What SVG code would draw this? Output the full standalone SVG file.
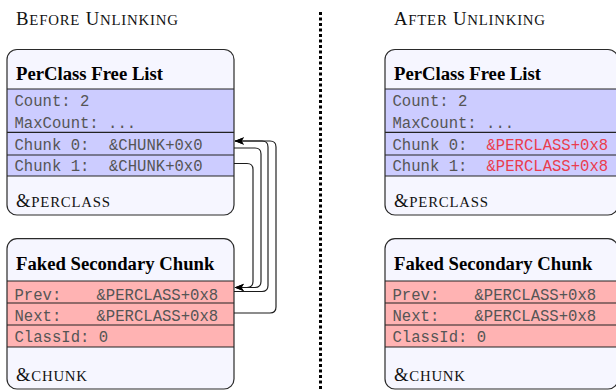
<svg xmlns="http://www.w3.org/2000/svg" width="616" height="391" viewBox="0 0 616 391">
<defs>
<style>
.box{fill:#f6f6ff;stroke:none}
.outline{fill:none;stroke:#2a2a2a;stroke-width:1.2}
.blue{fill:#ccccff}
.red{fill:#ffb3b3}
.sep{stroke:#222;stroke-width:1.2}
.title{font-family:"Liberation Serif","Times New Roman",serif;font-weight:bold;font-size:18.7px;fill:#000}
.sc{font-family:"Liberation Serif","Times New Roman",serif;font-size:18.7px;fill:#111}
.sc .s{font-size:14.8px}
.mono{font-family:"Liberation Mono","Courier New",monospace;font-size:15.6px;fill:#555}
.mono.hl{fill:#ea3c4e}
.conn{fill:none;stroke:#1a1a1a;stroke-width:1.15}
.divider{stroke:#000;stroke-width:3;stroke-dasharray:3 2.5}
</style>
<marker id="arr" viewBox="-10 -5 11 10" refX="0" refY="0" markerWidth="11" markerHeight="10" markerUnits="userSpaceOnUse" orient="auto">
<path d="M0.5,0 L-9,-3.8 L-6.5,0 L-9,3.8 Z" fill="#000"/>
</marker>
</defs>
<rect width="616" height="391" fill="#fff"/>

<text class="sc" x="16" y="25" textLength="162">B<tspan class="s">EFORE</tspan> U<tspan class="s">NLINKING</tspan></text>
<text class="sc" x="394" y="25" textLength="151">A<tspan class="s">FTER</tspan> U<tspan class="s">NLINKING</tspan></text>

<line class="divider" x1="320.5" y1="12" x2="320.5" y2="390"/>

<g id="perclass-before">
<rect class="box" x="7" y="49.5" width="227" height="165.5" rx="10"/>
<rect class="blue" x="7" y="89" width="227" height="87"/>
<line class="sep" x1="7" y1="89" x2="234" y2="89"/>
<line class="sep" x1="7" y1="132.3" x2="234" y2="132.3"/>
<line class="sep" x1="7" y1="155" x2="234" y2="155"/>
<line class="sep" x1="7" y1="176" x2="234" y2="176"/>
<rect class="outline" x="7" y="49.5" width="227" height="165.5" rx="10"/>
<text class="title" x="16" y="80">PerClass Free List</text>
<text class="mono" x="14.5" y="106">Count: 2</text>
<text class="mono" x="14.5" y="128.3">MaxCount: ...</text>
<text class="mono" x="14.5" y="149.5">Chunk 0:</text>
<text class="mono" x="109" y="149.5">&amp;CHUNK+0x0</text>
<text class="mono" x="14.5" y="170.5">Chunk 1:</text>
<text class="mono" x="109" y="170.5">&amp;CHUNK+0x0</text>
<text class="sc" x="16" y="207" textLength="94">&amp;<tspan class="s">PERCLASS</tspan></text>
</g>

<g id="chunk-before">
<rect class="box" x="7" y="238.7" width="227" height="150.3" rx="10"/>
<rect class="red" x="7" y="281" width="227" height="66"/>
<line class="sep" x1="7" y1="281" x2="234" y2="281"/>
<line class="sep" x1="7" y1="303" x2="234" y2="303"/>
<line class="sep" x1="7" y1="325" x2="234" y2="325"/>
<line class="sep" x1="7" y1="347" x2="234" y2="347"/>
<rect class="outline" x="7" y="238.7" width="227" height="150.3" rx="10"/>
<text class="title" x="16" y="269.5">Faked Secondary Chunk</text>
<text class="mono" x="14.5" y="299.5">Prev:</text>
<text class="mono" x="96.5" y="299.5">&amp;PERCLASS+0x8</text>
<text class="mono" x="14.5" y="320.5">Next:</text>
<text class="mono" x="96.5" y="320.5">&amp;PERCLASS+0x8</text>
<text class="mono" x="14.5" y="341.7">ClassId: 0</text>
<text class="sc" x="16" y="381" textLength="71">&amp;<tspan class="s">CHUNK</tspan></text>
</g>

<g id="perclass-after">
<rect class="box" x="385" y="49.5" width="233" height="165.5" rx="10"/>
<rect class="blue" x="385" y="89" width="233" height="87"/>
<line class="sep" x1="385" y1="89" x2="618" y2="89"/>
<line class="sep" x1="385" y1="132.3" x2="618" y2="132.3"/>
<line class="sep" x1="385" y1="155" x2="618" y2="155"/>
<line class="sep" x1="385" y1="176" x2="618" y2="176"/>
<rect class="outline" x="385" y="49.5" width="233" height="165.5" rx="10"/>
<text class="title" x="394" y="80">PerClass Free List</text>
<text class="mono" x="392.5" y="106">Count: 2</text>
<text class="mono" x="392.5" y="128.3">MaxCount: ...</text>
<text class="mono" x="392.5" y="149.5">Chunk 0:</text>
<text class="mono hl" x="486.5" y="149.5">&amp;PERCLASS+0x8</text>
<text class="mono" x="392.5" y="170.5">Chunk 1:</text>
<text class="mono hl" x="486.5" y="170.5">&amp;PERCLASS+0x8</text>
<text class="sc" x="394" y="207" textLength="94">&amp;<tspan class="s">PERCLASS</tspan></text>
</g>

<g id="chunk-after">
<rect class="box" x="385" y="238.7" width="233" height="150.3" rx="10"/>
<rect class="red" x="385" y="281" width="233" height="66"/>
<line class="sep" x1="385" y1="281" x2="618" y2="281"/>
<line class="sep" x1="385" y1="303" x2="618" y2="303"/>
<line class="sep" x1="385" y1="325" x2="618" y2="325"/>
<line class="sep" x1="385" y1="347" x2="618" y2="347"/>
<rect class="outline" x="385" y="238.7" width="233" height="150.3" rx="10"/>
<text class="title" x="394" y="269.5">Faked Secondary Chunk</text>
<text class="mono" x="392.5" y="299.5">Prev:</text>
<text class="mono" x="474.5" y="299.5">&amp;PERCLASS+0x8</text>
<text class="mono" x="392.5" y="320.5">Next:</text>
<text class="mono" x="474.5" y="320.5">&amp;PERCLASS+0x8</text>
<text class="mono" x="392.5" y="341.7">ClassId: 0</text>
<text class="sc" x="394" y="381" textLength="71">&amp;<tspan class="s">CHUNK</tspan></text>
</g>

<g id="connectors">
<path class="conn" marker-end="url(#arr)" d="M234,148 H255 Q261,148 261,154 V281.5 Q261,287.5 255,287.5 H235"/>
<path class="conn" marker-end="url(#arr)" d="M234,163.5 H247 Q253,163.5 253,169.5 V281.5 Q253,287.5 247,287.5 H235"/>
<path class="conn" marker-end="url(#arr)" d="M234,291.5 H262 Q268,291.5 268,285.5 V147 Q268,141 262,141 H235"/>
<path class="conn" marker-end="url(#arr)" d="M234,313 H270 Q276,313 276,307 V147 Q276,141 270,141 H235"/>
</g>
</svg>
